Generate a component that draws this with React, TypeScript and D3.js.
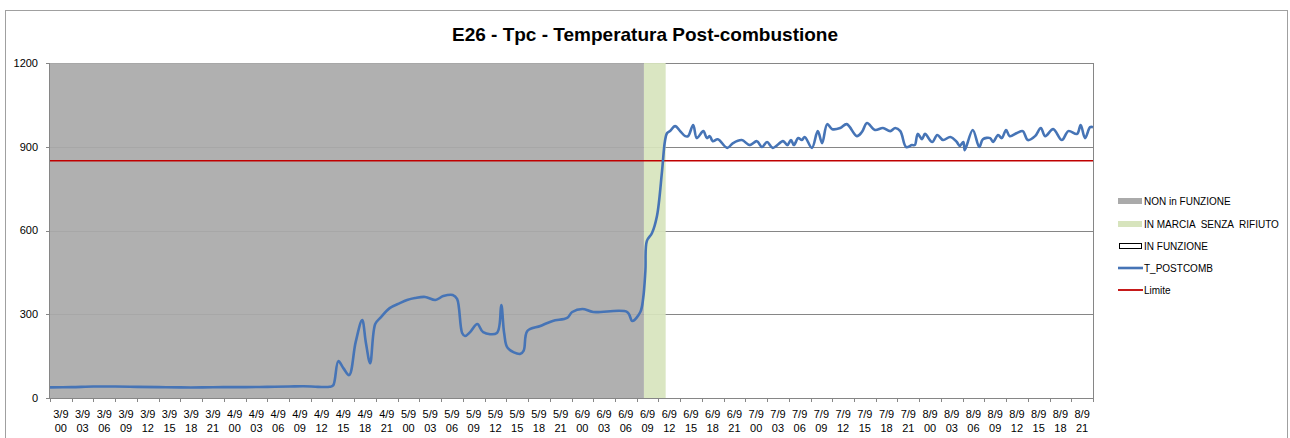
import React from "react";
import * as d3 from "d3";

// ---- data ----
const days = ["3/9", "4/9", "5/9", "6/9", "7/9", "8/9"];
const hoursOfDay = ["00", "03", "06", "09", "12", "15", "18", "21"];
const categories: string[][] = days.flatMap((d) => hoursOfDay.map((h) => [d, h]));

const yTicks = [0, 300, 600, 900, 1200];
const limite = 850;

// phases, in hours from 3/9 00:00
const phaseNames = ["NON in FUNZIONE", "IN MARCIA SENZA RIFIUTO", "IN FUNZIONE"];
const phaseStart = [0, 82, 85];
const phaseEnd = [82, 85, 144];
const phaseColors = ["#aaaaaa", "#d7e4bd", "none"];

// T_POSTCOMB series: hour offset and value
const tHours = [
  0, 3, 6, 9, 12, 15, 18, 21, 24, 27, 30, 33, 35, 37, 38.6,
  39.1, 39.8, 40.5, 41.3, 42.2, 43.1, 43.6, 44.2, 44.9, 45.6, 46.9, 48.3, 49.3, 50.4, 51.8,
  53.2, 54.3, 55.6, 56.2, 56.9, 57.3, 58.0, 59.0, 59.8, 61.7, 62.3, 62.7, 63.2, 64.9, 65.4,
  65.9, 67.7, 69.4, 71.4, 72.1, 73.5, 75.0, 79.7, 80.4, 81.5, 81.9, 82.2, 82.4, 83.1, 83.8,
  84.5, 84.9, 85.2, 85.6, 86.3, 87.0, 87.7, 88.1, 88.8, 89.3, 90.2, 90.7, 91.1, 91.5, 92.2,
  93.5, 94.3, 95.5, 96.6, 97.6, 98.3, 99.0, 99.8, 101.2, 101.8, 102.3, 102.7, 103.3, 103.8, 104.2,
  105.2, 106.0, 106.6, 107.3, 108.0, 109.1, 110.0, 111.4, 112.1, 112.8, 113.9, 115.0, 116.0, 116.7, 117.4,
  118.2, 119.0, 119.4, 119.8, 120.4, 120.8, 121.8, 122.5, 123.3, 124.3, 125.2, 125.6, 126.1, 126.3, 127.4,
  128.3, 128.8, 129.8, 130.2, 130.9, 131.4, 132.0, 132.5, 133.5, 134.3, 135.0, 136.0, 136.8, 137.4, 138.5,
  139.7, 140.6, 141.8, 142.3, 142.9, 143.6, 144.0,
];
const tPostcomb = [
  38, 39, 41, 41, 40, 39, 38, 38, 39, 39, 40, 41, 42, 40, 40,
  45, 132, 107, 82, 200, 279, 200, 125, 265, 287, 322, 340, 351, 358, 362,
  351, 365, 369, 355, 233, 222, 236, 265, 236, 233, 333, 233, 179, 158, 170,
  240, 258, 276, 287, 308, 319, 308, 308, 276, 308, 358, 455, 562, 590, 652,
  813, 920, 949, 956, 974, 956, 938, 938, 978, 931, 956, 931, 938, 920, 927,
  896, 913, 924, 906, 920, 899, 917, 896, 920, 906, 924, 906, 931, 924, 935,
  896, 956, 913, 981, 963, 967, 981, 938, 953, 985, 960, 967, 956, 967, 956,
  899, 906, 906, 946, 927, 946, 917, 942, 924, 935, 917, 903, 917, 888, 960,
  899, 927, 931, 917, 942, 931, 960, 938, 949, 956, 924, 938, 967, 938, 963,
  924, 956, 946, 978, 931, 970, 970,
];

const legendItems = [
  { label: "NON in FUNZIONE", kind: "rect", color: "#aaaaaa" },
  { label: "IN MARCIA  SENZA  RIFIUTO", kind: "rect", color: "#d7e4bd" },
  { label: "IN FUNZIONE", kind: "box", color: "#000" },
  { label: "T_POSTCOMB", kind: "line", color: "#4674b6" },
  { label: "Limite", kind: "line", color: "#c00000" },
];

export default function App() {
  const W = 1290, H = 438;
  const left = 50, right = 1093, top = 63, bottom = 398;
  const font = "'Liberation Sans', Arial, sans-serif";

  const x = d3.scaleLinear().domain([0, 144]).range([left, right]);
  const xBand = d3.scaleBand<number>().domain(d3.range(categories.length)).range([left, right]);
  const y = d3.scaleLinear().domain([0, 1200]).range([bottom, top]);

  const pts: [number, number][] = tHours.map((h, i) => [x(h), y(tPostcomb[i])]);
  const line = d3.line().curve(d3.curveCatmullRom.alpha(0.5))(pts) || "";

  const bw = xBand.bandwidth();
  const tickPositions = d3.range(categories.length + 1).map((i) => left + i * bw);

  return (
    <svg width={W} height={H} style={{ position: "absolute", left: 0, top: 0 }} fontFamily={font}>
      <rect x={0} y={0} width={W} height={H} fill="#fff" />
      <rect x={5.5} y={10.5} width={1282} height={440} fill="#fff" stroke="#a0a0a0" strokeWidth={1} />
      <text x={645} y={41} textAnchor="middle" fontSize={19} fontWeight="bold" fill="#000">
        E26 - Tpc - Temperatura Post-combustione
      </text>

      {/* gridlines */}
      {yTicks.map((t) => (
        <line key={t} x1={left} x2={right} y1={Math.round(y(t)) + 0.5} y2={Math.round(y(t)) + 0.5} stroke="#868686" strokeWidth={1} />
      ))}

      {/* phases */}
      {phaseNames.map((n, i) =>
        phaseColors[i] === "none" ? null : (
          <rect key={n} x={x(phaseStart[i])} y={top} width={x(phaseEnd[i]) - x(phaseStart[i])} height={bottom - top}
            fill={phaseColors[i]} fillOpacity={0.93} />
        )
      )}

      {/* plot border right */}
      <line x1={right + 0.5} x2={right + 0.5} y1={top} y2={bottom} stroke="#868686" />

      {/* limit line */}
      <line x1={left} x2={right} y1={y(limite)} y2={y(limite)} stroke="#c00000" strokeWidth={1.6} />

      {/* series */}
      <path d={line} fill="none" stroke="#4674b6" strokeWidth={2.6} strokeLinejoin="round" />

      {/* axes */}
      <line x1={left - 0.5} x2={left - 0.5} y1={top} y2={bottom} stroke="#868686" />
      <line x1={left - 4} x2={right} y1={bottom + 0.5} y2={bottom + 0.5} stroke="#868686" />
      {yTicks.map((t) => (
        <g key={t}>
          <line x1={left - 4} x2={left} y1={Math.round(y(t)) + 0.5} y2={Math.round(y(t)) + 0.5} stroke="#868686" />
          <text x={38} y={y(t)} dy="0.35em" textAnchor="end" fontSize={11} fill="#000">{t}</text>
        </g>
      ))}
      {tickPositions.map((p, i) => (
        <line key={i} x1={Math.round(p) + 0.5} x2={Math.round(p) + 0.5} y1={bottom} y2={bottom + 4} stroke="#868686" />
      ))}
      {categories.map((c, i) => (
        <text key={i} x={(xBand(i) || 0) + bw / 2} textAnchor="middle" fontSize={11} fill="#000">
          <tspan x={(xBand(i) || 0) + bw / 2} y={418}>{c[0]}</tspan>
          <tspan x={(xBand(i) || 0) + bw / 2} y={432}>{c[1]}</tspan>
        </text>
      ))}

      {/* legend */}
      {legendItems.map((it, i) => {
        const yy = [201, 224, 246, 268, 290][i];
        return (
          <g key={it.label}>
            {it.kind === "rect" && <rect x={1118} y={yy - 3} width={24} height={6} fill={it.color} />}
            {it.kind === "box" && <rect x={1119.5} y={yy - 2.5} width={22} height={5} fill="#fff" stroke="#000" strokeWidth={1} />}
            {it.kind === "line" && <line x1={1118} x2={1143} y1={yy} y2={yy} stroke={it.color} strokeWidth={it.color === "#c00000" ? 1.8 : 2.6} />}
            <text x={1144} y={yy} dy="0.35em" fontSize={10} fill="#000" style={{ whiteSpace: "pre" }}>{it.label}</text>
          </g>
        );
      })}
    </svg>
  );
}
